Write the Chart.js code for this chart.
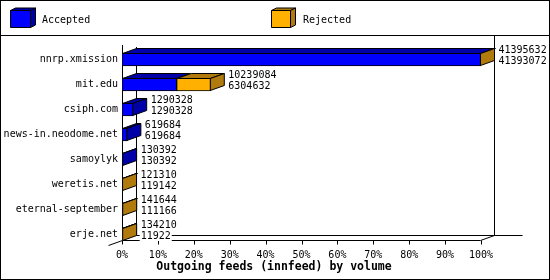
<!DOCTYPE html>
<html>
<head>
<meta charset="utf-8">
<script src="https://cdn.jsdelivr.net/npm/chart.js@4/dist/chart.umd.min.js"></script>
<style>
  body { margin: 0; background: #fff; }
  canvas { display: block; }
</style>
</head>
<body>
<canvas id="chart" width="550" height="280"></canvas>
<script>
// feeds, top to bottom
const categories = ['nnrp.xmission', 'mit.edu', 'csiph.com', 'news-in.neodome.net',
  'samoylyk', 'weretis.net', 'eternal-september', 'erje.net'];
const accepted = [41395632, 10239084, 1290328, 619684, 130392, 121310, 141644, 134210];
const rejected = [41393072, 6304632, 1290328, 619684, 130392, 119142, 111166, 11922];
const title = 'Outgoing feeds (innfeed) by volume';

const BLUE = '#0000ff', BLUE_DARK = '#0000a8';
const ORANGE = '#ffb000', ORANGE_DARK = '#b07a0c';
const DX = 14, DY = 5; // 3d depth
const FONT = 'DejaVu Sans Mono';

// bars are drawn as percent of the biggest feed
const maxVal = Math.max(...accepted);
const blueData = rejected.map((r, i) => Math.min(r, accepted[i]) / maxVal * 100);
const orangeData = accepted.map((a, i) => Math.max(a - rejected[i], 0) / maxVal * 100);

function poly(ctx, pts, fill) {
  ctx.beginPath();
  ctx.moveTo(pts[0][0], pts[0][1]);
  pts.slice(1).forEach(p => ctx.lineTo(p[0], p[1]));
  ctx.closePath();
  ctx.fillStyle = fill;
  ctx.fill();
  ctx.stroke();
}

function line(ctx, x1, y1, x2, y2) {
  ctx.beginPath();
  ctx.moveTo(x1, y1);
  ctx.lineTo(x2, y2);
  ctx.stroke();
}

const frame3d = {
  id: 'frame3d',
  beforeDraw(chart) {
    const ctx = chart.ctx;
    ctx.save();
    ctx.fillStyle = '#fff';
    ctx.fillRect(0, 0, chart.width, chart.height);
    ctx.restore();
  },
  beforeDatasetsDraw(chart) {
    const { ctx, chartArea: a, scales: { x } } = chart;
    const bar = chart.getDatasetMeta(0).data[categories.length - 1];
    const floor = bar.y + bar.height / 2 - 0.5;
    const L = a.left + 0.5, R = a.right - 0.5;
    ctx.save();
    ctx.strokeStyle = '#000';
    ctx.lineWidth = 1;
    line(ctx, L, a.top - 2, L, floor);
    line(ctx, L + DX, a.top, L + DX, floor - DY);
    line(ctx, L, floor, R, floor);
    line(ctx, R, floor, R + DX, floor - DY);
    line(ctx, L + DX, floor - DY, R + DX * 3, floor - DY);
    line(ctx, R + DX, a.top - 11, R + DX, floor - DY);
    line(ctx, L, floor, L - DX, floor + DY);
    x.ticks.forEach(t => {
      const px = Math.round(x.getPixelForValue(t.value)) + 0.5;
      line(ctx, px, floor, px, floor + 4);
    });
    ctx.restore();
  },
  afterDatasetsDraw(chart) {
    const ctx = chart.ctx;
    const m0 = chart.getDatasetMeta(0), m1 = chart.getDatasetMeta(1);
    ctx.save();
    ctx.strokeStyle = '#000';
    ctx.lineWidth = 1;
    categories.forEach((c, i) => {
      const b0 = m0.data[i], b1 = m1.data[i];
      const top = b0.y - b0.height / 2 + 0.5, bottom = b0.y + b0.height / 2 - 0.5;
      const segs = [
        { s: b0.base, e: b0.x, dark: BLUE_DARK },
        { s: b1.base, e: b1.x, dark: ORANGE_DARK }
      ].filter(g => g.e - g.s > 0.01);
      segs.forEach(g => {
        const s = g.s + 0.5, e = g.e - 0.5;
        poly(ctx, [[s, top], [Math.max(e, s), top], [Math.max(e, s) + DX, top - DY], [s + DX, top - DY]], g.dark);
      });
      const last = segs[segs.length - 1];
      const end = Math.max(last.e - 0.5, b0.base + 0.5);
      poly(ctx, [[end, top], [end + DX, top - DY], [end + DX, bottom - DY], [end, bottom]], last.dark);

      // value labels
      ctx.font = '10px "' + FONT + '"';
      ctx.textBaseline = 'middle';
      ctx.textAlign = 'left';
      const tx = end + DX + 4;
      [[String(accepted[i]), b0.y - 9.5], [String(rejected[i]), b0.y + 1.5]].forEach(([txt, ty]) => {
        const w = ctx.measureText(txt).width;
        ctx.fillStyle = '#fff';
        ctx.fillRect(tx - 1, ty - 5, w + 2, 10);
        ctx.fillStyle = '#000';
        ctx.fillText(txt, tx, ty);
      });
    });
    ctx.restore();
  },
  afterDraw(chart) {
    const ctx = chart.ctx;
    ctx.save();
    ctx.strokeStyle = '#000';
    ctx.lineWidth = 1;
    const box = (x, y, w, h, front, dark) => {
      poly(ctx, [[x, y], [x + w, y], [x + w + 5, y - 2.5], [x + 5, y - 2.5]], dark);
      poly(ctx, [[x + w, y], [x + w + 5, y - 2.5], [x + w + 5, y + h - 2.5], [x + w, y + h]], dark);
      poly(ctx, [[x, y], [x + w, y], [x + w, y + h], [x, y + h]], front);
    };
    box(10.5, 10.5, 20, 17, BLUE, BLUE_DARK);
    box(271.5, 10.5, 19, 17, ORANGE, ORANGE_DARK);
    ctx.fillStyle = '#000';
    ctx.font = '10px "' + FONT + '"';
    ctx.textBaseline = 'middle';
    ctx.fillText(chart.data.datasets[0].label, 42, 20);
    ctx.fillText(chart.data.datasets[1].label, 303, 20);
    // axis title, centred on the whole picture like the original
    ctx.font = 'bold 11.5px "' + FONT + '"';
    ctx.textAlign = 'center';
    ctx.fillText(title, 274, 267);
    line(ctx, 0, 35.5, chart.width, 35.5);
    ctx.strokeRect(0.5, 0.5, chart.width - 1, chart.height - 1);
    ctx.restore();
  }
};

new Chart(document.getElementById('chart').getContext('2d'), {
  type: 'bar',
  data: {
    labels: categories,
    datasets: [
      { label: 'Accepted', data: blueData, backgroundColor: BLUE },
      { label: 'Rejected', data: orangeData, backgroundColor: ORANGE }
    ]
  },
  options: {
    indexAxis: 'y',
    responsive: false,
    animation: false,
    devicePixelRatio: 1,
    datasets: {
      bar: { barThickness: 13, borderColor: '#000', borderWidth: 1, borderSkipped: false }
    },
    layout: { padding: { top: 47, left: 0, right: 69, bottom: 0 } },
    scales: {
      x: {
        stacked: true,
        min: 0,
        max: 100,
        grid: { display: false, drawTicks: false },
        border: { display: false },
        ticks: {
          stepSize: 10,
          autoSkip: false,
          maxRotation: 0,
          padding: 2,
          color: '#000',
          font: { family: FONT, size: 10 },
          callback: v => v + '%'
        },
        afterFit: s => { s.height = 33; }
      },
      y: {
        stacked: true,
        grid: { display: false, drawTicks: false },
        border: { display: false },
        ticks: { autoSkip: false, padding: 4, color: '#000', font: { family: FONT, size: 10 } },
        afterFit: s => { s.width = 122; }
      }
    },
    plugins: {
      legend: { display: false },
      tooltip: { enabled: false }
    }
  },
  plugins: [frame3d]
});
</script>
</body>
</html>
